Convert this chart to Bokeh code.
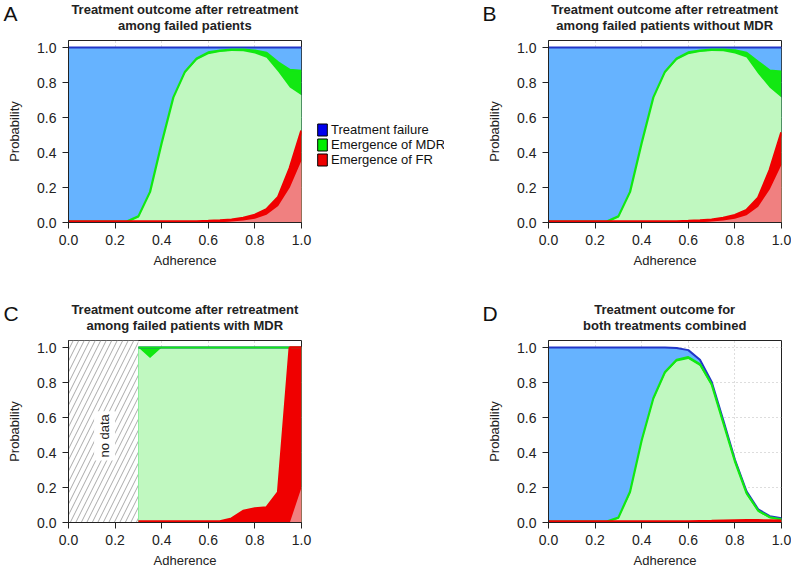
from math import pi
from bokeh.plotting import figure
from bokeh.models import (ColumnDataSource, Range1d, FixedTicker, PrintfTickFormatter,
                          Label, Legend, LegendItem, BoxAnnotation, Spacer)
from bokeh.layouts import row, column
from bokeh.embed import file_html
from bokeh.resources import INLINE

# ---------------- data (cumulative boundaries) ----------------
x_all = [0.00, 0.05, 0.10, 0.15, 0.20, 0.25, 0.30, 0.35, 0.40, 0.45, 0.50,
         0.55, 0.60, 0.65, 0.70, 0.75, 0.80, 0.85, 0.90, 0.95, 1.00]
x_mdr = [0.30, 0.35, 0.40, 0.45, 0.50, 0.55, 0.60, 0.65, 0.70, 0.75, 0.80,
         0.85, 0.90, 0.95, 1.00]

# Panel A: retreatment among failed patients
a_fr_lo = [0, 0, 0, 0, 0, 0, 0, 0, 0, 0, 0, 0, 0, 0.002, 0.006, 0.012, 0.022, 0.045, 0.095, 0.20, 0.355]
a_fr_hi = [0.005, 0.005, 0.005, 0.005, 0.005, 0.005, 0.005, 0.005, 0.005, 0.005, 0.005, 0.006,
           0.008, 0.011, 0.016, 0.026, 0.043, 0.075, 0.145, 0.31, 0.525]
a_mdr_lo = [0.005, 0.005, 0.005, 0.005, 0.005, 0.005, 0.03, 0.17, 0.45, 0.71, 0.855, 0.928,
            0.962, 0.975, 0.98, 0.979, 0.966, 0.942, 0.862, 0.772, 0.727]
a_mdr_hi = [0.005, 0.005, 0.005, 0.005, 0.005, 0.005, 0.035, 0.175, 0.455, 0.715, 0.862, 0.937,
            0.972, 0.983, 0.988, 0.988, 0.982, 0.970, 0.915, 0.872, 0.866]
a_tf = [1.0] * 21

# Panel B: retreatment among failed patients without MDR
b_fr_lo = [0, 0, 0, 0, 0, 0, 0, 0, 0, 0, 0, 0, 0, 0.002, 0.006, 0.012, 0.021, 0.042, 0.09, 0.19, 0.33]
b_fr_hi = [0.005, 0.005, 0.005, 0.005, 0.005, 0.005, 0.005, 0.005, 0.005, 0.005, 0.005, 0.006,
           0.008, 0.011, 0.016, 0.025, 0.042, 0.07, 0.14, 0.30, 0.515]
b_mdr_lo = [0.005, 0.005, 0.005, 0.005, 0.005, 0.005, 0.03, 0.17, 0.45, 0.71, 0.855, 0.928,
            0.962, 0.975, 0.98, 0.979, 0.966, 0.943, 0.85, 0.77, 0.714]
b_mdr_hi = [0.005, 0.005, 0.005, 0.005, 0.005, 0.005, 0.035, 0.175, 0.455, 0.715, 0.862, 0.937,
            0.972, 0.983, 0.988, 0.988, 0.984, 0.970, 0.918, 0.868, 0.862]
b_tf = [1.0] * 21

# Panel C: retreatment among failed patients with MDR (data from adherence 0.3)
c_fr_lo = [0, 0, 0, 0, 0, 0, 0, 0, 0, 0, 0, 0, 0, 0, 0.2]
c_fr_hi = [0.005, 0.005, 0.005, 0.005, 0.005, 0.005, 0.005, 0.005, 0.022, 0.065, 0.08,
           0.085, 0.172, 1.0, 1.0]
c_mdr_lo = [1.0, 0.94, 1.0, 1.0, 1.0, 1.0, 1.0, 1.0, 1.0, 1.0, 1.0, 1.0, 1.0, 1.0, 1.0]
c_mdr_hi = [1.0] * 15
c_tf = [1.0] * 15

# Panel D: both treatments combined
d_fr_lo = [0, 0, 0, 0, 0, 0, 0, 0, 0, 0, 0, 0, 0, 0, 0.002, 0.003, 0.004, 0.005, 0.005, 0.004, 0.004]
d_fr_hi = [0.005, 0.005, 0.005, 0.005, 0.005, 0.005, 0.005, 0.005, 0.005, 0.005, 0.005, 0.005,
           0.006, 0.007, 0.008, 0.01, 0.011, 0.012, 0.012, 0.011, 0.01]
d_mdr_lo = [0.005, 0.005, 0.005, 0.005, 0.005, 0.005, 0.022, 0.165, 0.46, 0.70, 0.85, 0.92,
            0.935, 0.895, 0.78, 0.56, 0.34, 0.158, 0.06, 0.024, 0.014]
d_mdr_hi = [0.005, 0.005, 0.005, 0.005, 0.005, 0.005, 0.028, 0.176, 0.47, 0.71, 0.86, 0.93,
            0.945, 0.905, 0.79, 0.57, 0.35, 0.168, 0.068, 0.03, 0.018]
d_tf = [1.0, 1.0, 1.0, 1.0, 1.0, 1.0, 1.0, 1.0, 1.0, 1.0, 1.0, 0.997, 0.985, 0.93, 0.805,
        0.585, 0.36, 0.178, 0.075, 0.036, 0.024]

ticks = [0.0, 0.2, 0.4, 0.6, 0.8, 1.0]
legend_labels = ["Treatment failure", "Emergence of MDR", "Emergence of FR"]
legend_colors = ["#0000EE", "#00EE00", "#EE0000"]
titles = {
    "A": ["Treatment outcome after retreatment", "among failed patients"],
    "B": ["Treatment outcome after retreatment", "among failed patients without MDR"],
    "C": ["Treatment outcome after retreatment", "among failed patients with MDR"],
    "D": ["Treatment outcome for", "both treatments combined"],
}

# ---------------- styles ----------------
FONT = "Liberation Sans"
LIGHT_BLUE = "#66B3FF"
BLUE = "#2236C8"
LIGHT_GREEN = "#C0F8C0"
GREEN = "#12E812"
LIGHT_RED = "#F08080"
RED = "#F00000"
TXT = "#222222"
W = 791


def make_panel(x, fr_lo, fr_hi, mdr_lo, mdr_hi, tf, bl, br, bt, bb):
    p = figure(frame_width=233, frame_height=182, min_border_left=bl, min_border_right=br,
               min_border_top=bt, min_border_bottom=bb,
               x_range=Range1d(0, 1), y_range=Range1d(0, 1.04),
               output_backend="svg", toolbar_location=None)
    p.background_fill_color = "white"
    p.border_fill_color = "white"
    p.outline_line_color = "#222222"
    p.outline_line_width = 1
    p.outline_line_alpha = 1

    for ax in (p.xaxis[0], p.yaxis[0]):
        ax.ticker = FixedTicker(ticks=ticks)
        ax.formatter = PrintfTickFormatter(format="%.1f")
        ax.major_tick_out = 6
        ax.major_tick_in = 0
        ax.minor_tick_line_color = None
        ax.axis_line_color = "#222222"
        ax.major_tick_line_color = "#222222"
        ax.major_label_text_font = FONT
        ax.major_label_text_font_size = "14px"
        ax.major_label_text_color = TXT
        ax.axis_label_text_font = FONT
        ax.axis_label_text_font_size = "13px"
        ax.axis_label_text_font_style = "normal"
        ax.axis_label_text_color = TXT
    p.xaxis.axis_label = "Adherence"
    p.yaxis.axis_label = "Probability"
    p.xaxis.major_label_standoff = 6
    p.xaxis.axis_label_standoff = 5
    p.yaxis.major_label_standoff = 6
    p.yaxis.axis_label_standoff = 12

    p.xgrid.ticker = FixedTicker(ticks=ticks)
    p.ygrid.ticker = FixedTicker(ticks=ticks)
    p.grid.grid_line_color = "#BBBBBB"
    p.grid.grid_line_dash = "1 3"
    p.grid.grid_line_width = 1

    src = ColumnDataSource(dict(x=x, fr_lo=fr_lo, fr_hi=fr_hi, mdr_lo=mdr_lo,
                                mdr_hi=mdr_hi, tf=tf, zero=[0.0] * len(x)))
    p.varea(x="x", y1="zero", y2="tf", fill_color=LIGHT_BLUE, source=src)
    p.varea(x="x", y1="zero", y2="mdr_hi", fill_color=GREEN, source=src)
    p.varea(x="x", y1="zero", y2="mdr_lo", fill_color=LIGHT_GREEN, source=src)
    p.varea(x="x", y1="zero", y2="fr_hi", fill_color=RED, source=src)
    p.varea(x="x", y1="zero", y2="fr_lo", fill_color=LIGHT_RED, source=src)
    p.line(x="x", y="tf", line_color=BLUE, line_width=2, source=src)
    p.line(x="x", y="mdr_hi", line_color=GREEN, line_width=2.2, source=src)
    p.line(x="x", y="fr_hi", line_color=RED, line_width=2.6, source=src)
    return p


def make_header(height, items):
    """items: (letter, letter_x, title_center_x) ; coordinates are screen pixels."""
    h = figure(width=W, height=height, x_range=Range1d(0, W), y_range=Range1d(height, 0),
               min_border=0, x_axis_location=None, y_axis_location=None,
               toolbar_location=None, output_backend="svg")
    h.outline_line_color = None
    h.grid.visible = False
    h.background_fill_color = "white"
    h.border_fill_color = "white"
    for letter, lx, cx in items:
        h.add_layout(Label(x=lx, y=12.5, text=letter, text_font=FONT, text_font_size="21px",
                           text_color="#111111", text_baseline="alphabetic", text_align="left"))
        l1, l2 = titles[letter]
        h.add_layout(Label(x=cx, y=9, text=l1, text_font=FONT, text_font_size="13px",
                           text_font_style="bold", text_color=TXT,
                           text_baseline="alphabetic", text_align="center"))
        h.add_layout(Label(x=cx, y=24.5, text=l2, text_font=FONT, text_font_size="13px",
                           text_font_style="bold", text_color=TXT,
                           text_baseline="alphabetic", text_align="center"))
    h.scatter(x=[], y=[])
    return h


header1 = make_header(36, [("A", 3, 184.3), ("B", 482, 664.2)])
header2 = make_header(36, [("C", 3, 184.3), ("D", 482, 664.2)])

pA = make_panel(x_all, a_fr_lo, a_fr_hi, a_mdr_lo, a_mdr_hi, a_tf, 68, 15, 4, 78)
pB = make_panel(x_all, b_fr_lo, b_fr_hi, b_mdr_lo, b_mdr_hi, b_tf, 104, 10, 4, 78)
pC = make_panel(x_mdr, c_fr_lo, c_fr_hi, c_mdr_lo, c_mdr_hi, c_tf, 68, 143, 4, 52)
pD = make_panel(x_all, d_fr_lo, d_fr_hi, d_mdr_lo, d_mdr_hi, d_tf, 104, 10, 4, 52)

# no-data hatched region in C
pC.add_layout(BoxAnnotation(left=0, right=x_mdr[0], fill_color="white", fill_alpha=1,
                            hatch_pattern="/", hatch_color="#AAAAAA", hatch_scale=11,
                            hatch_weight=1, line_color=None, level="underlay"))
pC.add_layout(Label(x=0.155, y=0.495, text="no data", angle=pi / 2, text_font=FONT,
                    text_font_size="13px", text_color=TXT, text_align="center",
                    text_baseline="middle", background_fill_color="white", padding=3))

# legend figure (between A and B)
leg = figure(width=128, height=50, x_range=Range1d(0, 1), y_range=Range1d(0, 1),
             min_border=0, x_axis_location=None, y_axis_location=None,
             toolbar_location=None, output_backend="svg")
leg.outline_line_color = None
leg.grid.visible = False
leg.background_fill_color = "white"
leg.border_fill_color = "white"
dummies = []
for col in legend_colors:
    # legend-key proxies, placed outside the visible range of this legend-only figure
    dummies.append(leg.quad(left=[5], right=[6], top=[6], bottom=[5], fill_color=col,
                            line_color="black", line_width=1))
legend = Legend(items=[LegendItem(label=l, renderers=[r]) for l, r in zip(legend_labels, dummies)],
                location="top_left", spacing=0, padding=0, margin=0,
                glyph_width=12, glyph_height=15, label_height=14, label_standoff=3,
                label_text_font=FONT, label_text_font_size="13px", label_text_color="#111111",
                label_text_line_height=1.0,
                background_fill_alpha=0, border_line_alpha=0)
leg.add_layout(legend)
leg_col = column(Spacer(width=128, height=86), leg, Spacer(width=128, height=128))

layout = column(header1, row(pA, leg_col, pB), header2, row(pC, pD))
open("out.html", "w").write(file_html(layout, INLINE))
